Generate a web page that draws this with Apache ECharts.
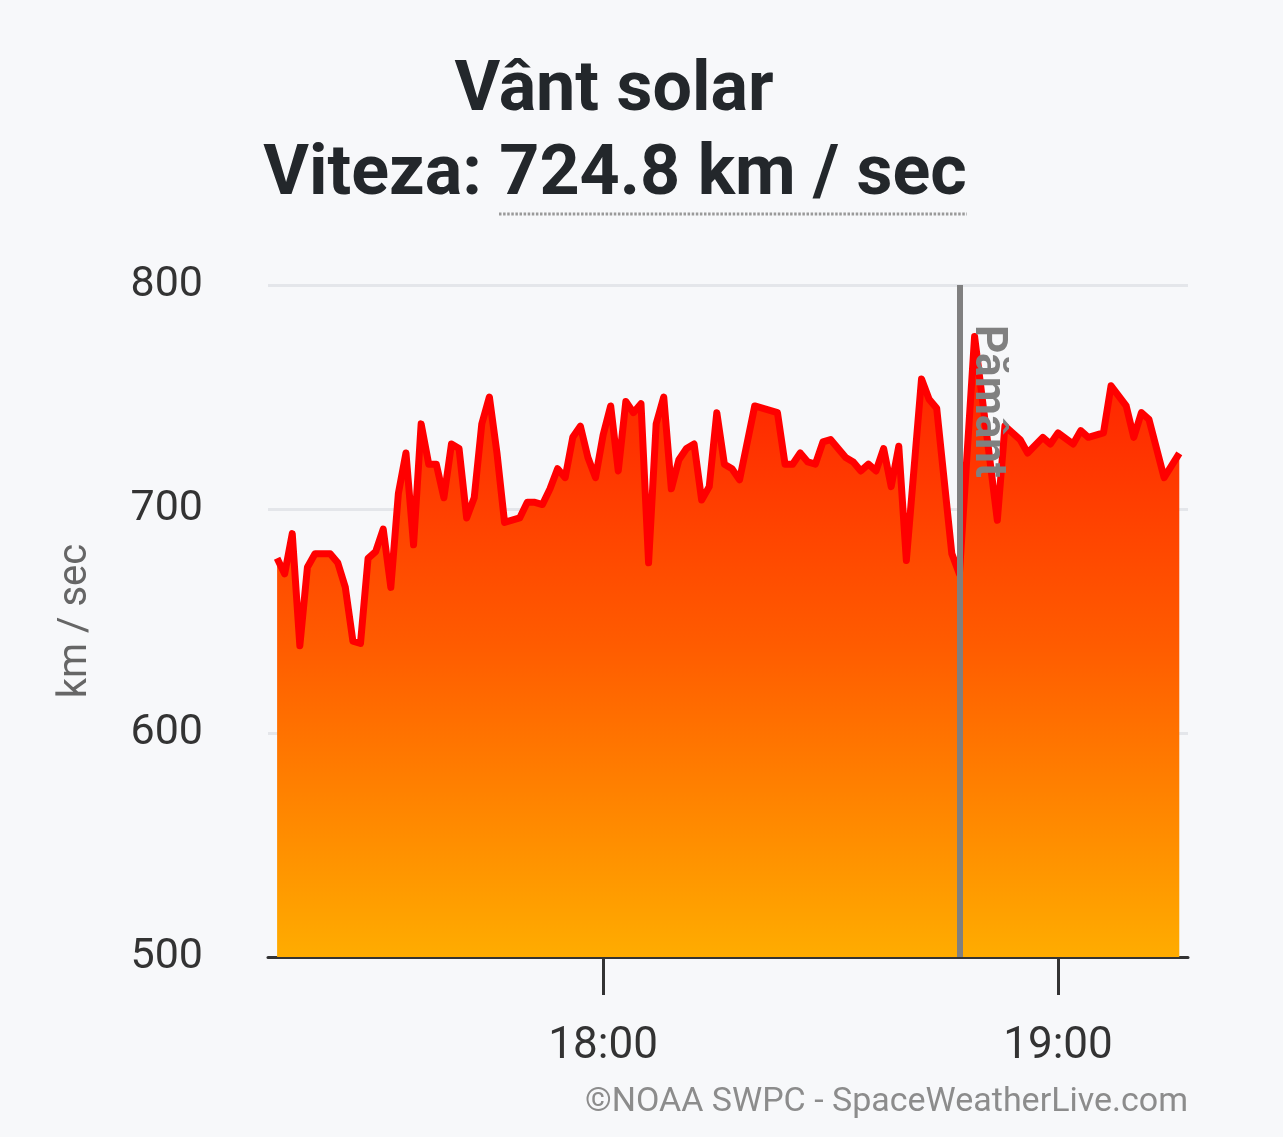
<!DOCTYPE html>
<html>
<head>
<meta charset="utf-8">
<title>Vânt solar</title>
<script src="https://cdn.jsdelivr.net/npm/echarts@6/dist/echarts.min.js"></script>
<style>
  html, body { margin: 0; padding: 0; background: #f7f8fa; }
  #chart { width: 1283px; height: 1137px; }
</style>
</head>
<body>
<div id="chart"></div>
<script>
// ---- data (1-minute solar wind speed, km/s) ----
var times = [
  '17:17','17:18','17:19','17:20','17:21','17:22','17:23','17:24','17:25','17:26',
  '17:27','17:28','17:29','17:30','17:31','17:32','17:33','17:34','17:35','17:36',
  '17:37','17:38','17:39','17:40','17:41','17:42','17:43','17:44','17:45','17:46',
  '17:47','17:48','17:49','17:50','17:51','17:52','17:53','17:54','17:55','17:56',
  '17:57','17:58','17:59','18:00','18:01','18:02','18:03','18:04','18:05','18:06',
  '18:07','18:08','18:09','18:10','18:11','18:12','18:13','18:14','18:15','18:16',
  '18:17','18:18','18:20','18:23','18:24','18:25','18:26','18:27','18:28','18:29',
  '18:30','18:32','18:33','18:34','18:35','18:36','18:37','18:38','18:39','18:40',
  '18:42','18:43','18:44','18:46','18:47','18:49','18:52','18:53','18:55','18:56',
  '18:58','18:59','19:00','19:02','19:03','19:04','19:06','19:07','19:09','19:10',
  '19:11','19:12','19:14','19:16'
];
var speeds = [
  678, 671, 689, 639, 674, 680, 680, 680, 676, 665,
  641, 640, 678, 681, 691, 665, 707, 725, 684, 738,
  720, 720, 705, 729, 727, 696, 705, 738, 750, 725,
  694, 695, 696, 703, 703, 702, 709, 718, 714, 732,
  737, 723, 714, 733, 746, 717, 748, 743, 747, 676,
  738, 750, 709, 722, 727, 729, 704, 710, 743, 720,
  718, 713, 746, 743, 720, 720, 725, 721, 720, 730,
  731, 723, 721, 717, 720, 717, 727, 710, 728, 677,
  758, 749, 745, 680, 671, 777, 695, 737, 731, 725,
  732, 729, 734, 729, 735, 732, 734, 755, 746, 732,
  743, 740, 714, 724.8
];
var xTicks = ['18:00', '19:00'];
var yTicks = [500, 600, 700, 800];
var earthTime = '18:47';
var xRange = ['17:15.8', '19:17.15'];

function toMin(s) {
  var p = s.split(':');
  return parseInt(p[0], 10) * 60 + parseFloat(p[1]);
}
function fmt(m) {
  var h = Math.floor(m / 60), mm = Math.round(m % 60);
  return (h < 10 ? '0' : '') + h + ':' + (mm < 10 ? '0' : '') + mm;
}

var seriesData = times.map(function (t, i) { return [toMin(t), speeds[i]]; });
var tickValues = xTicks.map(toMin);

var chart = echarts.init(document.getElementById('chart'));
var option = {
  backgroundColor: '#f7f8fa',
  animation: false,
  textStyle: { fontFamily: 'Roboto' },
  title: [
    {
      text: 'Vânt solar',
      left: 609, top: 52, textAlign: 'center',
      textStyle: { fontFamily: 'Roboto', fontWeight: 'bold', fontSize: 70, color: '#23272b', lineHeight: 70 }
    },
    {
      text: 'Viteza: ' + speeds[speeds.length - 1].toFixed(1) + ' km / sec',
      left: 610, top: 136, textAlign: 'center',
      textStyle: { fontFamily: 'Roboto', fontWeight: 'bold', fontSize: 70, color: '#23272b', lineHeight: 70 }
    },
    {
      text: '©NOAA SWPC - SpaceWeatherLive.com',
      right: 90, top: 1080,
      textStyle: { fontFamily: 'Roboto', fontWeight: 'normal', fontSize: 34, color: '#8c8c8c' }
    }
  ],
  graphic: [
    {
      type: 'line',
      shape: { x1: 499, y1: 214, x2: 967, y2: 214 },
      style: { stroke: '#9a9a9a', lineWidth: 3, lineDash: [2.5, 1.6] }
    }
  ],
  grid: { left: 268, right: 95, top: 285, bottom: 180 },
  xAxis: {
    type: 'value',
    min: toMin(xRange[0]),
    max: toMin(xRange[1]),
    axisLine: { show: true, lineStyle: { color: '#333333', width: 3 } },
    axisTick: { show: true, customValues: tickValues, length: 38, lineStyle: { color: '#333333', width: 3 } },
    axisLabel: {
      customValues: tickValues,
      formatter: function (v) { return fmt(v); },
      fontSize: 44, color: '#333333', margin: 68, fontFamily: 'Roboto'
    },
    splitLine: { show: false }
  },
  yAxis: {
    type: 'value',
    min: yTicks[0],
    max: yTicks[yTicks.length - 1],
    interval: 100,
    name: 'km / sec',
    nameLocation: 'middle',
    nameGap: 172,
    nameTextStyle: { fontSize: 40, color: '#666666', fontFamily: 'Roboto' },
    axisLine: { show: false },
    axisTick: { show: false },
    axisLabel: { fontSize: 43, color: '#333333', margin: 65, fontFamily: 'Roboto' },
    splitLine: { show: true, lineStyle: { color: '#e4e6ea', width: 3 } }
  },
  series: [
    {
      type: 'line',
      data: seriesData,
      showSymbol: false,
      smooth: false,
      silent: true,
      lineStyle: { color: '#ff0000', width: 7, join: 'round' },
      areaStyle: {
        origin: 'start',
        opacity: 1,
        color: new echarts.graphic.LinearGradient(0, 0, 0, 1, [
          { offset: 0, color: '#ff1c00' },
          { offset: 0.5, color: '#ff5c00' },
          { offset: 1, color: '#ffac00' }
        ])
      },
      markLine: {
        silent: true,
        symbol: ['none', 'none'],
        animation: false,
        lineStyle: { color: '#808080', width: 6, type: 'solid' },
        label: {
          show: true,
          formatter: 'Pământ',
          position: 'insideStartTop',
          distance: [40, 6],
          color: '#808080',
          fontWeight: 'bold',
          fontSize: 44,
          fontFamily: 'Roboto'
        },
        emphasis: { disabled: true },
        data: [[
          { coord: [toMin(earthTime), yTicks[yTicks.length - 1]] },
          { coord: [toMin(earthTime), yTicks[0]] }
        ]]
      }
    }
  ]
};
chart.setOption(option);
</script>
</body>
</html>
